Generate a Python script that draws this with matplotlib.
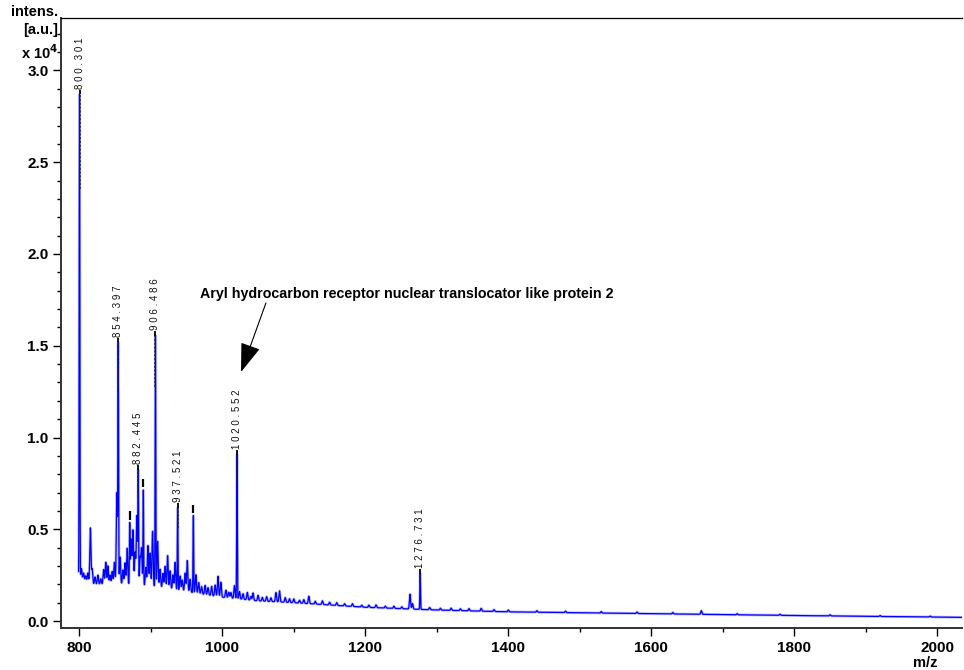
import numpy as np
import matplotlib
matplotlib.use("Agg")
import matplotlib.pyplot as plt
from matplotlib.ticker import MultipleLocator, FormatStrFormatter
from matplotlib.font_manager import FontProperties

# baseline of the spectrum (m/z, intensity x1e4)
base_mz = [798, 800, 820, 850, 900, 950, 1000, 1050, 1100, 1200, 1300, 1400, 1600, 1800, 2034]
base_int = [0.23, 0.23, 0.20, 0.20, 0.19, 0.16, 0.13, 0.11, 0.10, 0.075, 0.06, 0.05, 0.04, 0.03, 0.02]

# labelled peaks (height above baseline)
peak_mz = [800.301, 854.397, 882.445, 906.486, 937.521, 1020.552, 1276.731]
peak_h = [2.64, 1.29, 0.61, 1.37, 0.45, 0.79, 0.195]

# marked but unlabelled peaks
mark_mz = [870.5, 889.5, 959.5]
mark_h = [0.33, 0.52, 0.42]

# small peaks / noise
minor_mz = [803, 806, 809, 812, 815.5, 818, 822, 826, 830, 834, 837, 840, 843, 846, 849,
            852.5, 857, 861, 864, 867, 872.5, 875, 878, 880.5, 885, 887, 893, 896, 899,
            902.5, 909.5, 913, 917, 920, 923.5, 927, 931, 934, 941, 944, 948, 951, 955,
            963, 967, 971, 976, 980, 985, 990, 994, 998, 1005, 1009, 1012, 1017, 1024, 1029,
            1035, 1040, 1043, 1050, 1056, 1062, 1068, 1075, 1080, 1088, 1094, 1100, 1108,
            1114, 1121, 1130, 1140, 1150, 1160, 1171, 1182, 1195, 1205, 1215, 1228, 1240,
            1251, 1262.5, 1266, 1290, 1305, 1320, 1333, 1345, 1362, 1380, 1400, 1440, 1480,
            1530, 1580, 1630, 1670, 1720, 1780, 1850, 1920, 1990]
minor_h = [0.06, 0.04, 0.03, 0.05, 0.30, 0.08, 0.04, 0.05, 0.03, 0.08, 0.12, 0.10, 0.05, 0.07, 0.12,
           0.50, 0.15, 0.08, 0.12, 0.20, 0.25, 0.30, 0.18, 0.38, 0.15, 0.20, 0.10, 0.22, 0.18,
           0.30, 0.25, 0.10, 0.08, 0.12, 0.18, 0.10, 0.08, 0.15, 0.08, 0.06, 0.10, 0.17, 0.07,
           0.10, 0.06, 0.04, 0.05, 0.04, 0.05, 0.06, 0.11, 0.08, 0.04, 0.03, 0.03, 0.07, 0.04, 0.03,
           0.04, 0.02, 0.04, 0.03, 0.02, 0.025, 0.02, 0.05, 0.06, 0.025, 0.02, 0.02, 0.015,
           0.02, 0.04, 0.015, 0.02, 0.015, 0.015, 0.012, 0.015, 0.01, 0.012, 0.015, 0.01, 0.012,
           0.01, 0.08, 0.03, 0.012, 0.01, 0.012, 0.01, 0.012, 0.015, 0.01, 0.01, 0.008, 0.008,
           0.008, 0.008, 0.008, 0.02, 0.006, 0.006, 0.006, 0.005, 0.005]

annot_text = "Aryl hydrocarbon receptor nuclear translocator like protein 2"

# build the spectrum trace
mz = np.arange(799.0, 2034, 0.1)
inten = np.interp(mz, base_mz, base_int)
for m, h in zip(peak_mz + mark_mz, peak_h + mark_h):
    inten += h * np.exp(-0.5 * ((mz - m) / 0.45) ** 2)
for m, h in zip(minor_mz, minor_h):
    inten += h * np.exp(-0.5 * ((mz - m) / 0.8) ** 2)

fig = plt.figure(figsize=(9.64, 6.7), dpi=100)
ax = fig.add_axes([61/964, 1-628/670, 901/964, 610/670])

ax.plot(mz, inten, color="#8a8aff", lw=2.0, alpha=0.55)
ax.plot(mz, inten, color="#0000ff", lw=0.9)

ax.set_xlim(774.4, 2034.5)
ax.set_ylim(-0.038, 3.286)

tick_font = FontProperties(family=["Liberation Sans", "DejaVu Sans"], weight="bold", size=11)
ax.xaxis.set_major_locator(MultipleLocator(200))
ax.xaxis.set_minor_locator(MultipleLocator(100))
ax.yaxis.set_major_locator(MultipleLocator(0.5))
ax.yaxis.set_minor_locator(MultipleLocator(0.1))
ax.yaxis.set_major_formatter(FormatStrFormatter("%.1f"))
ax.tick_params(which="major", length=6, width=1, direction="out", pad=3)
ax.tick_params(which="minor", length=3, width=1, direction="out")
for lab in ax.get_xticklabels() + ax.get_yticklabels():
    lab.set_fontproperties(tick_font)

ax.spines["right"].set_visible(False)
ax.spines["left"].set_linewidth(1.4)
ax.spines["bottom"].set_linewidth(1.4)
ax.spines["top"].set_linewidth(0.9)
for s in ["left", "bottom"]:
    ax.spines[s].set_color("#333333")

# peak markers and labels
for m in peak_mz:
    top = inten[np.argmin(np.abs(mz - m))]
    ax.vlines(m, top * 0.82, top, colors="#222222", lw=1.1, linestyles=(0, (1.5, 1)))
    ax.vlines(m, top, top + 0.025, colors="black", lw=1.3)
    ax.text(m, top + 0.03, " ".join("%.3f" % m), rotation=90, ha="center", va="bottom",
            fontsize=7, color="#111111", weight="medium",
            family=["Liberation Sans", "DejaVu Sans"])
for m in mark_mz:
    top = inten[np.argmin(np.abs(mz - m))]
    ax.vlines(m, top + 0.015, top + 0.06, colors="black", lw=1.6)

# annotation with arrow
ax.text(968.8, 1.78, annot_text, ha="left", va="center", fontsize=10.3, weight="bold",
        family=["Liberation Sans", "DejaVu Sans"])
ax.annotate("", xy=(1026.2, 1.357), xytext=(1061, 1.733),
            arrowprops=dict(arrowstyle="-|>,head_length=1.3,head_width=0.45",
                            mutation_scale=14, lw=0.8, color="black",
                            shrinkA=0, shrinkB=0))

lab_font = dict(weight="bold", fontsize=10.5, family=["Liberation Sans", "DejaVu Sans"])
fig.text(58/964, 1-5/670, "intens.\n[a.u.]\nx 10$^\\mathbf{4}$", ha="right", va="top",
         linespacing=1.4, **lab_font)
fig.text(937/964, 1-663/670, "m/z", ha="right", va="center", **lab_font)

fig.savefig("out.png", dpi=100)
